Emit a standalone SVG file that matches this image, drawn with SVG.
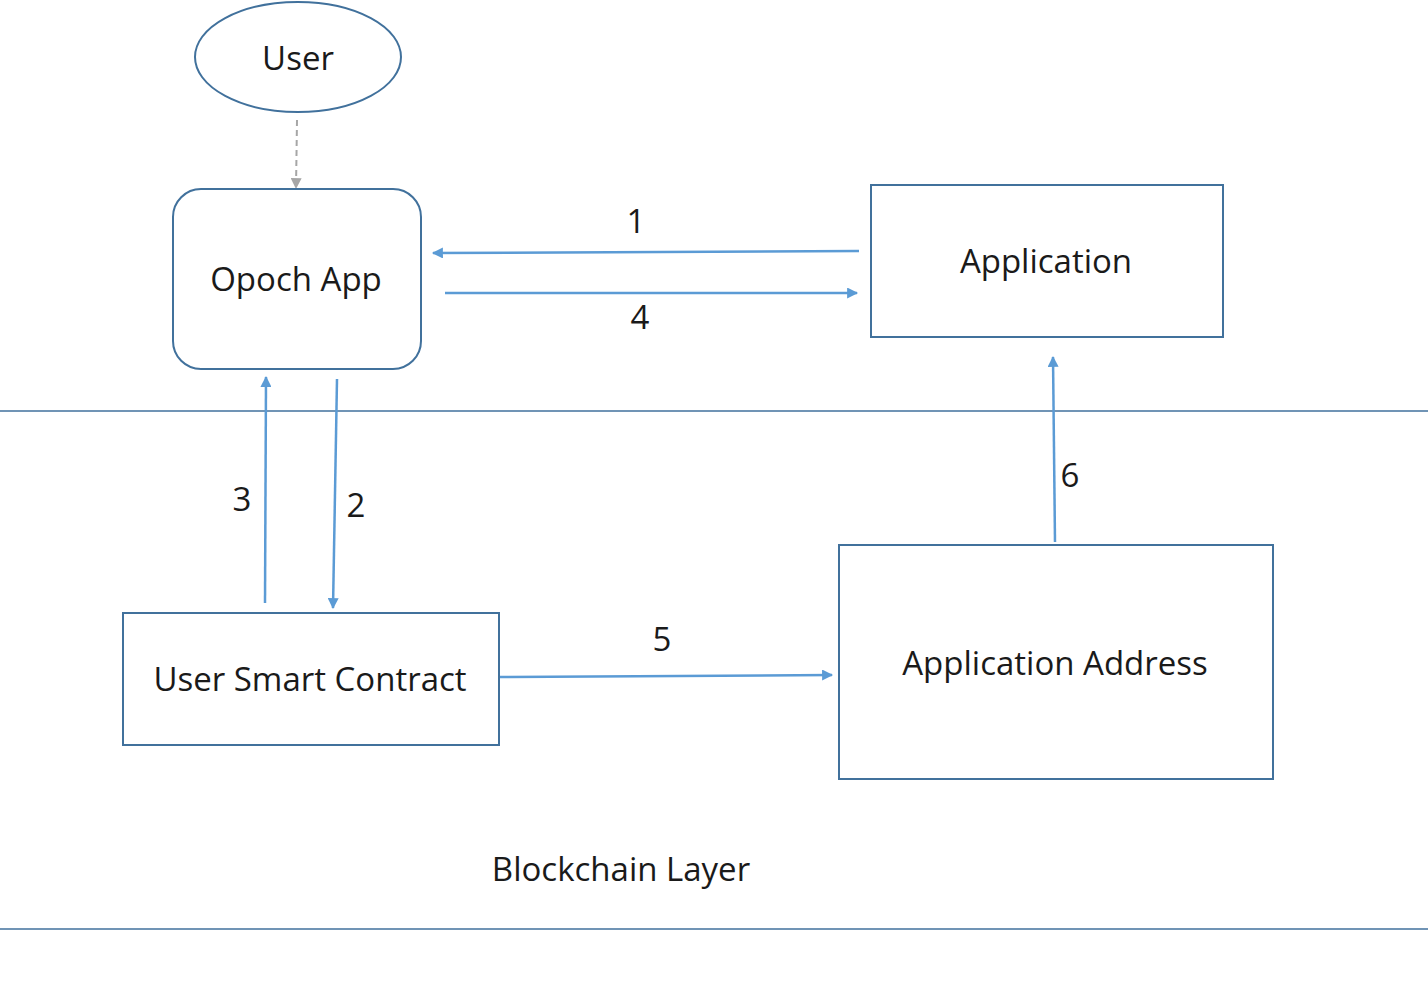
<svg xmlns="http://www.w3.org/2000/svg" width="1428" height="990" viewBox="0 0 1428 990">
<defs>
<style>
.box{fill:#fff;stroke:#41719c;stroke-width:2}
.lay{stroke:#41719c;stroke-width:1.5}
.arr{stroke:#5b9bd5;stroke-width:2.5;fill:none;marker-end:url(#ah)}
.dash{stroke:#a6a6a6;stroke-width:2;stroke-dasharray:6 4;fill:none;marker-end:url(#ahg)}
text{font-family:"Open Sans","Noto Sans",sans-serif;font-size:33px;fill:#1a1a1a;text-anchor:middle;dominant-baseline:central}
</style>
<marker id="ah" viewBox="0 0 10 10" refX="9" refY="5" markerWidth="12" markerHeight="11" markerUnits="userSpaceOnUse" orient="auto"><path d="M0,0 L10,5 L0,10 z" fill="#5b9bd5"/></marker>
<marker id="ahg" viewBox="0 0 10 10" refX="9" refY="5" markerWidth="12" markerHeight="11" markerUnits="userSpaceOnUse" orient="auto"><path d="M0,0 L10,5 L0,10 z" fill="#a6a6a6"/></marker>
</defs>
<rect width="1428" height="990" fill="#fff"/>
<g id="layers">
<line class="lay" x1="0" y1="411" x2="1428" y2="411"/>
<line class="lay" x1="0" y1="929" x2="1428" y2="929"/>
<text x="621" y="868">Blockchain Layer</text>
</g>
<g id="connectors">
<line class="dash" x1="297" y1="120" x2="296" y2="188"/>
<line class="arr" x1="859" y1="251" x2="433" y2="253"/>
<line class="arr" x1="445" y1="293" x2="857" y2="293"/>
<line class="arr" x1="265" y1="603" x2="266" y2="377"/>
<line class="arr" x1="337" y1="379" x2="333" y2="608"/>
<line class="arr" x1="499" y1="677" x2="832" y2="675"/>
<line class="arr" x1="1055" y1="542" x2="1053" y2="357"/>
<text x="636" y="220">1</text>
<text x="640" y="316">4</text>
<text x="242" y="498">3</text>
<text x="356" y="504">2</text>
<text x="662" y="638">5</text>
<text x="1070" y="474">6</text>
</g>
<g id="user">
<ellipse class="box" cx="298" cy="57" rx="103" ry="55"/>
<text x="298" y="57">User</text>
</g>
<g id="opoch">
<rect class="box" x="173" y="189" width="248" height="180" rx="28"/>
<text x="296" y="278">Opoch App</text>
</g>
<g id="application">
<rect class="box" x="871" y="185" width="352" height="152"/>
<text x="1046" y="260">Application</text>
</g>
<g id="usc">
<rect class="box" x="123" y="613" width="376" height="132"/>
<text x="310" y="678">User Smart Contract</text>
</g>
<g id="appaddr">
<rect class="box" x="839" y="545" width="434" height="234"/>
<text x="1055" y="662">Application Address</text>
</g>
</svg>
